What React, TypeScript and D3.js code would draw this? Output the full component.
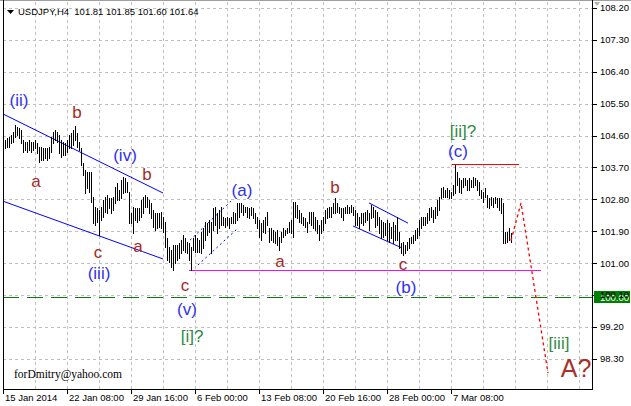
import React from 'react';
import * as d3 from 'd3';

// USDJPY H4 bars (high / low), one per 4-hour bar
const highs = [
  104.48,104.53,104.56,104.62,104.70,104.90,104.84,104.81,104.76,104.48,
  104.42,104.42,104.48,104.42,104.42,104.48,104.39,104.28,104.28,104.25,
  104.25,104.25,104.28,104.56,104.70,104.76,104.70,104.62,104.48,104.42,
  104.39,104.48,104.62,104.67,104.76,104.87,104.67,104.42,104.25,103.83,
  103.63,103.57,103.57,103.57,102.87,102.58,102.56,102.50,102.58,102.78,
  102.87,102.92,102.84,102.84,102.87,103.15,103.26,103.06,103.35,103.43,
  103.40,103.29,103.01,102.42,102.58,102.56,102.56,102.56,102.78,102.87,
  102.92,102.87,102.78,102.70,102.50,102.42,102.42,102.42,102.44,102.30,
  102.16,101.71,101.46,101.37,101.51,101.51,101.51,101.57,101.65,101.79,
  101.71,101.60,101.57,101.46,101.71,101.79,101.71,101.65,101.88,101.99,
  102.16,102.13,102.22,102.16,102.56,102.58,102.42,102.50,102.58,102.30,
  102.27,102.30,102.27,102.30,102.44,102.42,102.70,102.70,102.70,102.64,
  102.58,102.58,102.56,102.58,102.56,102.42,102.30,102.22,102.13,102.22,
  102.30,102.44,101.99,101.99,101.94,101.88,101.94,101.74,101.88,101.99,
  101.94,101.99,102.16,102.22,102.73,102.73,102.64,102.50,102.42,102.30,
  102.27,102.16,102.44,102.44,102.44,102.30,102.22,102.08,102.22,102.30,
  102.50,102.56,102.58,102.58,102.70,102.84,102.70,102.58,102.56,102.56,
  102.58,102.64,102.58,102.64,102.58,102.50,102.42,102.30,102.42,102.42,
  102.44,102.50,102.42,102.64,102.58,102.50,102.44,102.30,102.22,102.16,
  102.13,102.22,102.13,102.02,102.16,102.08,102.30,101.88,101.57,101.60,
  101.51,101.60,101.71,101.74,101.79,101.94,101.99,102.22,102.30,102.30,
  102.30,102.42,102.56,102.58,102.50,102.58,102.78,102.87,103.12,103.15,
  103.06,103.12,103.06,103.01,103.21,103.77,103.57,103.40,103.35,103.40,
  103.40,103.35,103.40,103.35,103.43,103.40,103.35,103.29,103.06,103.01,
  103.12,102.92,102.84,102.87,102.84,102.87,102.84,102.84,102.84,102.70,
  101.88,101.88,101.99,101.85,
];
const lows = [
  104.25,104.28,104.28,104.39,104.42,104.56,104.62,104.53,104.39,104.14,
  104.19,104.14,104.19,104.14,104.19,104.25,104.11,103.85,103.91,103.91,
  103.97,103.91,103.97,104.14,104.39,104.48,104.42,104.11,104.00,104.05,
  104.05,104.14,104.25,104.25,104.33,104.48,104.28,104.19,103.77,103.49,
  102.98,103.12,103.01,102.73,102.13,102.08,102.16,101.79,102.22,102.30,
  102.44,102.42,102.56,102.42,102.50,102.70,102.78,102.78,102.84,102.98,
  103.01,103.01,102.13,102.13,101.85,102.22,102.16,102.22,102.30,102.42,
  102.58,102.58,102.42,102.27,102.02,101.94,101.99,102.02,101.99,101.88,
  101.46,101.09,101.03,100.89,100.81,101.00,101.09,101.15,101.29,101.37,
  101.32,101.29,101.09,100.81,101.37,101.32,101.32,101.32,101.29,101.43,
  101.65,101.79,101.88,101.29,101.94,102.08,101.85,101.99,102.08,102.08,
  102.02,102.08,101.99,102.13,102.13,102.13,102.22,102.30,102.44,102.36,
  102.44,102.30,102.27,102.36,102.27,102.13,101.99,101.74,101.65,101.88,
  101.85,102.08,101.60,101.65,101.60,101.57,101.51,101.37,101.60,101.74,
  101.79,101.85,101.88,101.85,101.74,102.30,102.27,102.16,102.13,102.08,
  102.02,101.88,102.13,102.08,101.99,101.94,101.85,101.65,101.85,101.94,
  102.13,102.27,102.30,102.30,102.42,102.42,102.44,102.42,102.30,102.22,
  102.42,102.42,102.42,102.44,102.36,102.08,102.08,101.99,102.13,102.08,
  102.16,102.22,101.94,102.27,102.30,102.02,102.08,101.85,101.71,101.74,
  101.79,101.65,101.60,101.71,101.57,101.65,101.65,101.43,101.29,101.23,
  101.29,101.37,101.43,101.57,101.57,101.65,101.71,101.79,101.99,102.08,
  102.08,102.13,102.22,102.30,102.16,102.27,102.36,102.50,102.84,102.87,
  102.87,102.87,102.84,102.84,102.92,102.98,103.21,103.01,102.98,103.15,
  103.21,103.06,103.06,103.15,103.15,103.21,103.06,102.92,102.84,102.73,
  102.87,102.58,102.56,102.64,102.58,102.70,102.58,102.50,102.42,101.57,
  101.57,101.60,101.65,101.60,
];

const priceTicks = [108.2, 107.3, 106.4, 105.5, 104.6, 103.7, 102.8, 101.9, 101.0, 100.1, 99.2, 98.3];
const dateLabels = ['15 Jan 2014', '22 Jan 08:00', '29 Jan 16:00', '6 Feb 00:00', '13 Feb 08:00', '20 Feb 16:00', '28 Feb 00:00', '7 Mar 08:00'];
const dateBarIdx = [-1, 31, 63, 95, 127, 159, 191, 223];
const gridBarIdx = [15, 31, 47, 63, 79, 95, 111, 127, 143, 159, 175, 191, 207, 223, 239, 255, 271, 287];

const titleText = 'USDJPY,H4  101.81 101.85 101.60 101.64';
const markerPrice = 100.04;
const markerLabel = '100.00';

// wave labels: text, bar index, price, kind
const waveText = ['(ii)', 'b', 'a', '(iv)', 'b', 'c', 'a', '(iii)', 'c', '(v)', '[i]?', '(a)', 'a', 'b', 'c', '(b)', '[ii]?', '(c)', '[iii]', 'A?'];
const waveIdx = [7, 36, 15.5, 60, 71, 46.5, 66.5, 47, 90, 91, 93.5, 118.5, 137.5, 165, 199, 200.5, 229, 226.5, 277, 285.5];
const wavePrice = [105.43, 105.10, 103.15, 103.88, 103.35, 101.15, 101.32, 100.55, 100.21, 99.54, 98.78, 102.90, 100.89, 102.98, 100.81, 100.16, 104.56, 104.00, 98.58, 97.79];
const waveKind = ['blue', 'brown', 'brown', 'blue', 'brown', 'brown', 'brown', 'blue', 'brown', 'blue', 'green', 'blue', 'brown', 'brown', 'brown', 'blue', 'green', 'blue', 'green', 'big'];

// trend lines: [i1, p1, i2, p2]
const channelLines = [
  [-1, 105.21, 79, 102.98],
  [-1, 102.75, 79, 101.12],
  [182, 102.70, 201.5, 102.13],
  [174, 102.05, 198.5, 101.43],
];
const dottedLines = [
  [92.5, 101.65, 113, 102.75],
  [96.5, 100.95, 116.5, 101.99],
];
const supportLine = [92, 100.82, 268, 100.82];
const resistLine = [223.5, 103.79, 257, 103.79];
const projIdx = [253, 258, 271.5];
const projPrice = [101.64, 102.70, 97.90];

const W = 631, H = 406;
const L = 3, R = 592, B = 389;

export default function App() {
  const x = d3.scaleLinear().domain([-1, 293.5]).range([L, R]);
  const y = d3.scaleLinear().domain([98.3, 108.2]).range([358.9, 8]);
  const px = (i: number) => Math.round(x(i)) + 0.5;
  const py = (p: number) => Math.round(y(p)) + 0.5;

  const colors: Record<string, string> = { blue: '#3030f0', brown: '#a52a2a', green: '#2e8b40', big: '#a8302a' };
  const projLine = d3.line<number>().x((_, k) => x(projIdx[k])).y((_, k) => y(projPrice[k]));

  const axisFont = 'Liberation Sans, Arial, sans-serif';

  return (
    <svg width={W} height={H} style={{ position: 'absolute', left: 0, top: 0, background: '#fff' }}>
      <rect x={0} y={0} width={W} height={H} fill="#fff" />
      {/* grid */}
      {priceTicks.map((p) => (
        <line key={'hg' + p} x1={L} x2={R} y1={py(p)} y2={py(p)} stroke="#c0c0c0" strokeDasharray="3,3" />
      ))}
      {gridBarIdx.map((i) => (
        <line key={'vg' + i} x1={px(i)} x2={px(i)} y1={2} y2={B} stroke="#c0c0c0" strokeDasharray="3,3" />
      ))}
      {/* level line */}
      <line x1={L} x2={R} y1={py(markerPrice)} y2={py(markerPrice)} stroke="#0f7a0f" strokeDasharray="16,8" />
      {/* support / resistance */}
      <line x1={x(supportLine[0])} x2={x(supportLine[2])} y1={py(supportLine[1])} y2={py(supportLine[3])} stroke="#ee10ee" />
      <line x1={x(resistLine[0])} x2={x(resistLine[2])} y1={py(resistLine[1])} y2={py(resistLine[3])} stroke="#ff0000" />
      {/* channels */}
      {channelLines.map((c, k) => (
        <line key={'ch' + k} x1={x(c[0])} y1={y(c[1])} x2={x(c[2])} y2={y(c[3])} stroke="#0000ff" strokeWidth={1} />
      ))}
      {dottedLines.map((c, k) => (
        <line key={'dl' + k} x1={x(c[0])} y1={y(c[1])} x2={x(c[2])} y2={y(c[3])} stroke="#0000ff" strokeWidth={1} strokeDasharray="2,3" />
      ))}
      {/* bars */}
      {highs.map((h, i) => (
        <line key={'b' + i} x1={px(i)} x2={px(i)} y1={Math.round(y(h))} y2={Math.round(y(lows[i])) + 1} stroke="#000" strokeWidth={1} shapeRendering="crispEdges" />
      ))}
      {/* projection */}
      <path d={projLine(projIdx) || ''} fill="none" stroke="#ff0000" strokeWidth={1.3} strokeDasharray="3,3" />
      {/* wave labels */}
      {waveText.map((t, k) => (
        <text key={'w' + k} x={x(waveIdx[k])} y={y(wavePrice[k])} textAnchor="middle"
          fontFamily="Liberation Sans, Arial, sans-serif" fontSize={waveKind[k] === 'big' ? 25 : 17}
          fill={colors[waveKind[k]]}>{t}</text>
      ))}
      {/* frame */}
      <line x1={0} x2={W} y1={0.5} y2={0.5} stroke="#a0a0a0" />
      <line x1={L + 0.5} x2={L + 0.5} y1={0} y2={B + 0.5} stroke="#000" />
      <line x1={R + 0.5} x2={R + 0.5} y1={0} y2={B + 0.5} stroke="#000" />
      <line x1={L} x2={R + 1} y1={B + 0.5} y2={B + 0.5} stroke="#000" />
      <path d={`M${R + 2},2 L${R + 8},2 L${R + 5},6 Z`} fill="#b0b0b0" />
      {/* price axis */}
      {priceTicks.map((p) => (
        <line key={'pt' + p} x1={R} x2={R + 5} y1={py(p)} y2={py(p)} stroke="#000" />
      ))}
      <rect x={R + 2} y={Math.round(y(markerPrice)) - 6} width={36} height={12} fill="#008000" />
      <text x={R + 8} y={y(markerPrice)} dy="0.4em" fontFamily={axisFont} fontSize={9.5} fill="#fff">{markerLabel}</text>
      {priceTicks.map((p) => (
        <text key={'pl' + p} x={R + 8} y={y(p)} dy="0.35em" fontFamily={axisFont} fontSize={9.5} fill="#000">{p.toFixed(2)}</text>
      ))}
      {/* time axis */}
      {dateBarIdx.map((i, k) => (
        <g key={'dt' + k}>
          <line x1={px(i)} x2={px(i)} y1={B} y2={B + 5} stroke="#000" />
          <text x={x(i) + 2} y={B + 12} fontFamily={axisFont} fontSize={9.5} fill="#000">{dateLabels[k]}</text>
        </g>
      ))}
      {/* title */}
      <path d="M7,10 L14,10 L10.5,14 Z" fill="#000" />
      <text x={18} y={15} fontFamily={axisFont} fontSize={9.5} fill="#000" style={{ whiteSpace: 'pre' }}>{titleText}</text>
      <text x={14} y={378} fontFamily="Liberation Serif, Times New Roman, serif" fontSize={11.5} fill="#000">forDmitry@yahoo.com</text>
    </svg>
  );
}
